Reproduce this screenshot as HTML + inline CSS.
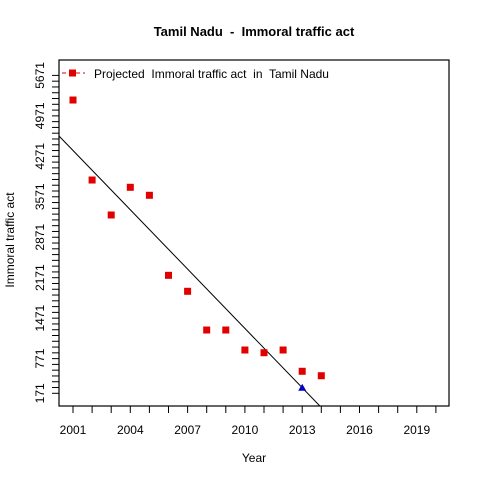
<!DOCTYPE html>
<html><head><meta charset="utf-8"><style>
html,body{margin:0;padding:0;background:#fff;}
svg{display:block;font-family:"Liberation Sans",Arial,sans-serif;}
svg text{white-space:pre;}
</style></head><body>
<svg id="chart" width="480" height="480" viewBox="0 0 480 480">
<rect width="480" height="480" fill="#fff"/>
<text x="254" y="36" text-anchor="middle" font-size="13" font-weight="bold" xml:space="preserve">Tamil Nadu  -  Immoral traffic act</text>
<text x="254" y="462" text-anchor="middle" font-size="12">Year</text>
<text transform="translate(14,240) rotate(-90)" text-anchor="middle" font-size="12">Immoral traffic act</text>
<defs><clipPath id="pc"><rect x="59" y="60" width="390" height="346"/></clipPath></defs>
<g id="axes"></g>
<g id="marks" clip-path="url(#pc)"></g>
<rect x="59" y="60" width="390" height="346" fill="none" stroke="#000" stroke-width="1.2"/>
<g>
<line x1="62" y1="73" x2="85" y2="73" stroke="#e00000" stroke-width="1" stroke-dasharray="4,3"/>
<rect x="69" y="69.5" width="7" height="7" fill="#e00000"/>
<text x="94" y="78" font-size="12" xml:space="preserve">Projected  Immoral traffic act  in  Tamil Nadu</text>
</g>
</svg>
<script>
const years = [2001,2002,2003,2004,2005,2006,2007,2008,2009,2010,2011,2012,2013,2014];
const values = [5245,3861,3256,3735,3597,2212,1936,1266,1266,920,873,920,552,475];
const projYear = [2013];
const projValue = [268];
const fitLine = [4372, -342]; // intercept at 2001, slope per year
const xTickLabels = [2001,2004,2007,2010,2013,2016,2019];
const yTickLabels = [171,771,1471,2171,2871,3571,4271,4971,5671];

const NS="http://www.w3.org/2000/svg";
const X = y => 73 + (y-2001)*19.1;
const Y = v => 393.3 - (v-171)*0.0578;
const axes=document.getElementById('axes'), marks=document.getElementById('marks');
function mk(tag,attrs,parent){const e=document.createElementNS(NS,tag);for(const k in attrs)e.setAttribute(k,attrs[k]);parent.appendChild(e);return e;}

for(let yr=2001; yr<=2020; yr++){
  const t=mk('line',{x1:X(yr),x2:X(yr),y1:406,y2:413,stroke:'#000'},axes);
  
  
}
xTickLabels.forEach(l=>{
  const t=mk('text',{x:X(l),y:434,'text-anchor':'middle','font-size':12},axes);
  t.textContent=l;
  
  
});
for(let v=171; v<=5671; v+=100){
  const t=mk('line',{x1:52,x2:59,y1:Y(v),y2:Y(v),stroke:'#000'},axes);
  
  
}
yTickLabels.forEach(l=>{
  const t=mk('text',{transform:`translate(44,${Y(l)}) rotate(-90)`,'text-anchor':'middle','font-size':12},axes);
  t.textContent=l;
  
  
});
const x0=2000, x1=2016;
const ln=mk('line',{x1:X(x0),y1:Y(fitLine[0]+fitLine[1]*(x0-2001)),x2:X(x1),y2:Y(fitLine[0]+fitLine[1]*(x1-2001)),stroke:'#000','stroke-width':1},marks);


years.forEach((yr,i)=>{
  const r=mk('rect',{x:X(yr)-3.5,y:Y(values[i])-3.5,width:7,height:7,fill:'#e00000'},marks);
  
  
});
projYear.forEach((yr,i)=>{
  const cx=X(yr), cy=Y(projValue[i]);
  const p=mk('polygon',{points:`${cx-4},${cy+3} ${cx+4},${cy+3} ${cx},${cy-4}`,fill:'#0000cc'},marks);
  
  
});
</script>
</body></html>
